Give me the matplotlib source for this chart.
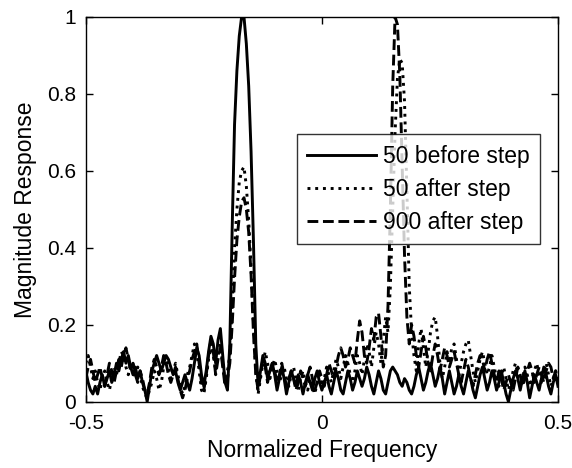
import numpy as np
import matplotlib
matplotlib.use("Agg")
import matplotlib.pyplot as plt

freq = np.linspace(-0.5, 0.5, 201)

before50 = [
    0.08, 0.05, 0.03, 0.02, 0.04, 0.02, 0.05, 0.07, 0.04, 0.06,
    0.08, 0.05, 0.07, 0.10, 0.08, 0.11, 0.13, 0.10, 0.12, 0.09,
    0.07, 0.09, 0.06, 0.08, 0.05, 0.03, 0.00, 0.04, 0.08, 0.10,
    0.12, 0.10, 0.08, 0.10, 0.12, 0.11, 0.09, 0.07, 0.08, 0.05,
    0.03, 0.05, 0.07, 0.05, 0.03, 0.06, 0.10, 0.14, 0.12, 0.07,
    0.04, 0.08, 0.13, 0.17, 0.15, 0.10, 0.16, 0.19, 0.12, 0.05,
    0.03, 0.15, 0.45, 0.72, 0.86, 0.95, 1.00, 1.00, 0.93, 0.82,
    0.65, 0.42, 0.15, 0.04, 0.08, 0.12, 0.10, 0.06, 0.08, 0.10,
    0.07, 0.03, 0.06, 0.09, 0.06, 0.02, 0.05, 0.08, 0.06, 0.04,
    0.07, 0.05, 0.02, 0.05, 0.07, 0.05, 0.03, 0.06, 0.08, 0.05,
    0.03, 0.05, 0.07, 0.04, 0.02, 0.05, 0.08, 0.06, 0.03, 0.02,
    0.05, 0.08, 0.06, 0.03, 0.05, 0.08, 0.06, 0.04, 0.06, 0.09,
    0.07, 0.04, 0.02, 0.05, 0.08, 0.06, 0.03, 0.02, 0.05, 0.08,
    0.09, 0.08, 0.07, 0.05, 0.04, 0.06, 0.05, 0.03, 0.02, 0.04,
    0.07, 0.09, 0.06, 0.03, 0.05, 0.08, 0.10, 0.07, 0.04, 0.06,
    0.09, 0.06, 0.02, 0.05, 0.08, 0.05, 0.02, 0.04, 0.07, 0.04,
    0.02, 0.05, 0.08, 0.06, 0.03, 0.01, 0.04, 0.07, 0.09, 0.06,
    0.03, 0.05, 0.08, 0.06, 0.03, 0.05, 0.08, 0.05, 0.02, 0.00,
    0.03, 0.06, 0.08, 0.06, 0.03, 0.06, 0.08, 0.05, 0.01, 0.04,
    0.07, 0.05, 0.03, 0.06, 0.09, 0.07, 0.04, 0.02, 0.05, 0.07,
    0.04,
]

after50 = [
    0.10, 0.12, 0.09, 0.06, 0.08, 0.05, 0.03, 0.06, 0.08, 0.05,
    0.03, 0.06, 0.09, 0.07, 0.10, 0.13, 0.12, 0.09, 0.07, 0.10,
    0.08, 0.06, 0.09, 0.07, 0.04, 0.02, 0.01, 0.03, 0.05, 0.08,
    0.06, 0.03, 0.05, 0.09, 0.11, 0.09, 0.06, 0.08, 0.10, 0.07,
    0.04, 0.02, 0.04, 0.07, 0.09, 0.12, 0.15, 0.13, 0.08, 0.03,
    0.02, 0.06, 0.11, 0.14, 0.12, 0.08, 0.12, 0.15, 0.10, 0.05,
    0.08, 0.12, 0.25, 0.40, 0.50, 0.57, 0.60, 0.61, 0.56, 0.47,
    0.35, 0.20, 0.08, 0.02, 0.06, 0.10, 0.13, 0.10, 0.06, 0.09,
    0.11, 0.08, 0.05, 0.07, 0.09, 0.06, 0.04, 0.07, 0.09, 0.06,
    0.03, 0.06, 0.08, 0.05, 0.03, 0.06, 0.04, 0.02, 0.05, 0.07,
    0.04, 0.06, 0.09, 0.07, 0.05, 0.08, 0.11, 0.09, 0.06, 0.09,
    0.12, 0.10, 0.07, 0.05, 0.08, 0.12, 0.10, 0.07, 0.11, 0.15,
    0.13, 0.09, 0.14, 0.18, 0.15, 0.10, 0.16, 0.22, 0.18, 0.30,
    0.50, 0.70, 0.84, 0.89, 0.88, 0.78, 0.55, 0.30, 0.18, 0.12,
    0.08, 0.15, 0.19, 0.14, 0.09, 0.13, 0.18, 0.21, 0.22, 0.17,
    0.10, 0.06, 0.09, 0.13, 0.10, 0.14, 0.15, 0.11, 0.07, 0.10,
    0.13, 0.15, 0.16, 0.12, 0.08, 0.05, 0.08, 0.11, 0.13, 0.10,
    0.07, 0.09, 0.12, 0.09, 0.06, 0.04, 0.07, 0.09, 0.06, 0.03,
    0.05, 0.08, 0.10, 0.07, 0.04, 0.06, 0.09, 0.07, 0.04, 0.06,
    0.08, 0.10, 0.07, 0.05, 0.08, 0.10, 0.07, 0.04, 0.06, 0.08,
    0.05,
]

after900 = [
    0.06, 0.09, 0.11, 0.08, 0.05, 0.07, 0.09, 0.06, 0.04, 0.07,
    0.10, 0.08, 0.05, 0.08, 0.11, 0.09, 0.12, 0.14, 0.11, 0.08,
    0.10, 0.07, 0.05, 0.08, 0.06, 0.03, 0.02, 0.05, 0.09, 0.11,
    0.09, 0.07, 0.09, 0.12, 0.10, 0.07, 0.05, 0.07, 0.09, 0.06,
    0.03, 0.01, 0.03, 0.06, 0.08, 0.11, 0.13, 0.15, 0.10, 0.05,
    0.03, 0.07, 0.12, 0.16, 0.13, 0.07, 0.11, 0.14, 0.09, 0.04,
    0.06, 0.10, 0.20, 0.32, 0.42, 0.48, 0.52, 0.53, 0.50, 0.44,
    0.33, 0.18, 0.07, 0.03, 0.07, 0.11, 0.09, 0.05, 0.08, 0.10,
    0.08, 0.05, 0.07, 0.10, 0.07, 0.04, 0.06, 0.08, 0.06, 0.03,
    0.05, 0.08, 0.06, 0.04, 0.07, 0.09, 0.06, 0.03, 0.05, 0.08,
    0.06, 0.04, 0.07, 0.10, 0.08, 0.06, 0.09, 0.12, 0.14, 0.12,
    0.09, 0.11, 0.14, 0.12, 0.10, 0.16, 0.21, 0.18, 0.12, 0.10,
    0.14, 0.19, 0.16, 0.22, 0.23, 0.17, 0.09, 0.12, 0.25, 0.50,
    0.82, 1.00, 0.98, 0.85, 0.62, 0.38, 0.22, 0.15, 0.20, 0.17,
    0.12, 0.09, 0.13, 0.17, 0.14, 0.10, 0.08, 0.12, 0.15, 0.12,
    0.08, 0.11, 0.14, 0.12, 0.09, 0.11, 0.13, 0.10, 0.07, 0.05,
    0.08, 0.11, 0.09, 0.06, 0.04, 0.07, 0.10, 0.12, 0.11, 0.08,
    0.11, 0.13, 0.10, 0.07, 0.05, 0.08, 0.06, 0.03, 0.05, 0.07,
    0.05, 0.03, 0.06, 0.09, 0.07, 0.04, 0.06, 0.08, 0.10, 0.08,
    0.05, 0.07, 0.09, 0.07, 0.05, 0.08, 0.10, 0.09, 0.06, 0.08,
    0.05,
]

labels = ["50 before step", "50 after step", "900 after step"]
xticks = [-0.5, 0, 0.5]
xticklabels = ["-0.5", "0", "0.5"]
yticks = [0, 0.2, 0.4, 0.6, 0.8, 1.0]
yticklabels = ["0", "0.2", "0.4", "0.6", "0.8", "1"]

plt.rcParams['font.family'] = ['Liberation Sans', 'DejaVu Sans']
fs = 16.5
tfs = 15

fig = plt.figure(figsize=(5.72, 4.68), dpi=100)
ax = fig.add_axes([0.150, 0.1417, 0.8255, 0.8223])

lw = 2.1
ax.plot(freq, before50, color='black', linestyle='-', linewidth=lw, label=labels[0])
ax.plot(freq, after50, color='black', linestyle=':', linewidth=lw, label=labels[1])
ax.plot(freq, after900, color='black', linestyle='--', linewidth=lw, label=labels[2])

ax.set_xlim(-0.5, 0.5)
ax.set_ylim(0, 1)
ax.set_xticks(xticks)
ax.set_xticklabels(xticklabels)
ax.set_yticks(yticks)
ax.set_yticklabels(yticklabels)
ax.tick_params(direction='in', top=True, right=True, length=5, width=1,
               labelsize=tfs)
ax.tick_params(axis='x', pad=9)
ax.tick_params(axis='y', pad=7)
for s in ax.spines.values():
    s.set_linewidth(1.0)
ax.set_xlabel("Normalized Frequency", fontsize=fs, labelpad=4)
ax.set_ylabel("Magnitude Response", fontsize=fs, labelpad=7)

leg = ax.legend(loc='upper right', bbox_to_anchor=(0.962, 0.695), fontsize=fs,
                frameon=True, fancybox=False, edgecolor='black',
                handlelength=3.0, handletextpad=0.3, borderpad=0.45,
                labelspacing=0.45, borderaxespad=0)
leg.get_frame().set_linewidth(1.0)

fig.savefig("out.png", dpi=100)
